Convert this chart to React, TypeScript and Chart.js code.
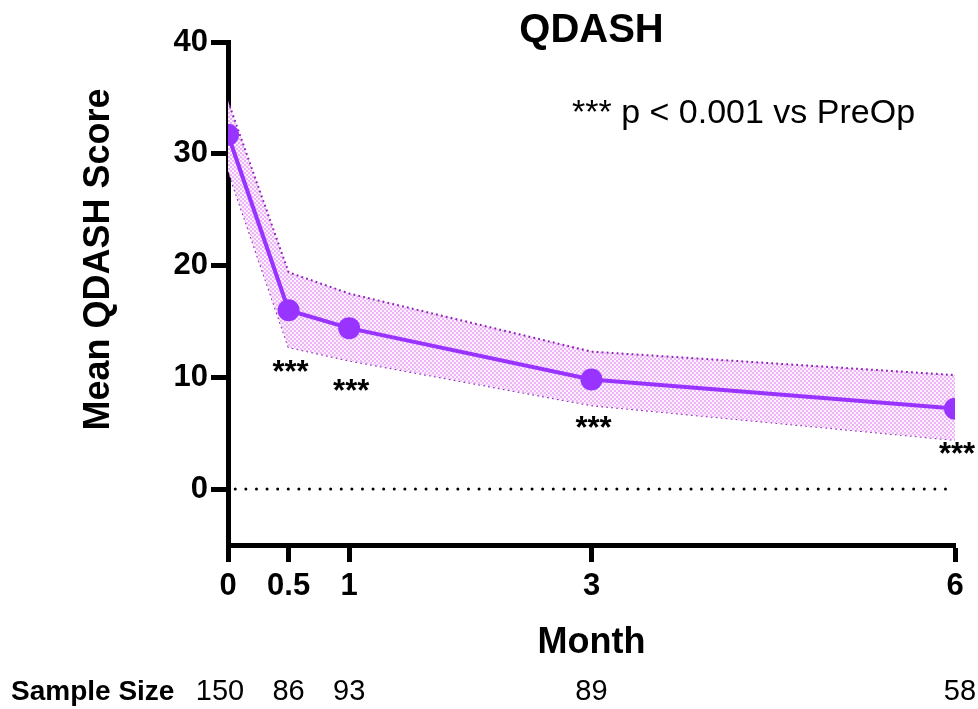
import { useEffect, useRef } from 'react';
import { Chart, registerables } from 'chart.js';

Chart.register(...registerables);

// ---- data ----
const months = [0, 0.5, 1, 3, 6];
const meanScore = [31.7, 16.0, 14.4, 9.8, 7.2];
const upperBand = [34.7, 19.4, 17.5, 12.3, 10.2];
const lowerBand = [28.5, 12.7, 11.5, 7.5, 4.4];
const sampleSize = ['150', '86', '93', '89', '58'];
const xTicks = [0, 0.5, 1, 3, 6];
const yTicks = [0, 10, 20, 30, 40];
const starMonths = [0.5, 1, 3, 6];
const starLevels = [10.9, 9.2, 5.9, 3.6];

const FONT = 'Arial, "Liberation Sans", Helvetica, sans-serif';
const PURPLE = '#9933ff';

function makePattern(): CanvasPattern | string {
  const c = document.createElement('canvas');
  c.width = 4;
  c.height = 4;
  const g = c.getContext('2d');
  if (!g) return 'rgba(225,160,240,0.5)';
  g.fillStyle = '#fcf0fd';
  g.fillRect(0, 0, 4, 4);
  g.fillStyle = '#ecb6f6';
  g.fillRect(0, 0, 2, 2);
  g.fillRect(2, 2, 2, 2);
  const p = g.createPattern(c, 'repeat');
  return p || 'rgba(225,160,240,0.5)';
}

const textPlugin = {
  id: 'textPlugin',
  afterDraw(chart: any) {
    const ctx = chart.ctx;
    const xs = chart.scales.x;
    const ys = chart.scales.y;
    const area = chart.chartArea;
    const cx = (area.left + area.right) / 2;
    ctx.save();
    ctx.fillStyle = '#000';
    // title
    ctx.font = `bold 40px ${FONT}`;
    ctx.textAlign = 'center';
    ctx.textBaseline = 'alphabetic';
    ctx.fillText('QDASH', cx, 42);
    // annotation
    ctx.font = `34px ${FONT}`;
    ctx.textAlign = 'left';
    ctx.fillText('*** p < 0.001 vs PreOp', 572, 123);
    // stars
    ctx.font = `bold 31px ${FONT}`;
    ctx.textAlign = 'center';
    starMonths.forEach((m, i) => {
      ctx.fillText('***', xs.getPixelForValue(m) + 2, ys.getPixelForValue(starLevels[i]) + 15);
    });
    // x title
    ctx.font = `bold 36px ${FONT}`;
    ctx.fillText('Month', cx, 653);
    // y title
    ctx.save();
    ctx.translate(109, ys.getPixelForValue(20) - 6);
    ctx.rotate(-Math.PI / 2);
    ctx.textAlign = 'center';
    ctx.fillText('Mean QDASH Score', 0, 0);
    ctx.restore();
    // sample size row
    ctx.font = `bold 28px ${FONT}`;
    ctx.textAlign = 'left';
    ctx.fillText('Sample Size', 11, 700);
    ctx.font = `29px ${FONT}`;
    ctx.textAlign = 'center';
    months.forEach((m, i) => {
      let x = xs.getPixelForValue(m);
      if (i === 0) x -= 8;
      if (i === months.length - 1) x += 5;
      ctx.fillText(sampleSize[i], x, 700);
    });
    ctx.restore();
  },
};

export default function App() {
  const ref = useRef<HTMLCanvasElement | null>(null);

  useEffect(() => {
    document.body.style.margin = '0';
    const canvas = ref.current;
    if (!canvas) return;
    const pattern = makePattern();
    const pts = (vals: number[]) => months.map((m, i) => ({ x: m, y: vals[i] }));

    const chart = new Chart(canvas, {
      type: 'line',
      data: {
        datasets: [
          {
            label: 'Mean',
            data: pts(meanScore),
            borderColor: PURPLE,
            backgroundColor: PURPLE,
            borderWidth: 4,
            pointRadius: 11,
            pointBorderWidth: 0,
            pointBackgroundColor: PURPLE,
            tension: 0,
            fill: false,
            clip: 0,
          },
          {
            label: 'Upper',
            data: pts(upperBand),
            borderColor: '#8e1fb8',
            borderWidth: 2,
            borderDash: [1.8, 3.2],
            pointRadius: 0,
            fill: '+1',
            backgroundColor: pattern as any,
            tension: 0,
            clip: 0,
          },
          {
            label: 'Lower',
            data: pts(lowerBand),
            borderColor: '#8e1fb8',
            borderWidth: 2,
            borderDash: [1.8, 3.2],
            pointRadius: 0,
            fill: false,
            tension: 0,
            clip: 0,
          },
          {
            label: 'Zero',
            data: [
              { x: 0.06, y: 0 },
              { x: 5.96, y: 0 },
            ],
            borderColor: '#000',
            borderWidth: 3,
            borderDash: [0, 10.6],
            borderCapStyle: 'round',
            pointRadius: 0,
            fill: false,
            clip: 0,
          },
        ],
      },
      options: {
        animation: false,
        responsive: false,
        maintainAspectRatio: false,
        layout: { padding: { left: 0, top: 42, right: 23, bottom: 0 } },
        plugins: {
          legend: { display: false },
          title: { display: false },
          tooltip: { enabled: false },
        },
        scales: {
          x: {
            type: 'linear',
            min: 0,
            max: 6,
            afterBuildTicks: (s: any) => {
              s.ticks = xTicks.map((v) => ({ value: v }));
            },
            afterFit: (s: any) => {
              s.height = 164;
            },
            border: { display: true, color: '#000', width: 5 },
            grid: {
              drawOnChartArea: false,
              drawTicks: true,
              tickLength: 17,
              tickWidth: 5,
              tickColor: '#000',
              color: '#000',
            },
            ticks: {
              color: '#000',
              font: { family: FONT, size: 31, weight: 'bold' },
              padding: 6,
              maxRotation: 0,
              autoSkip: false,
              callback: (v: any) => String(v),
            },
          },
          y: {
            type: 'linear',
            min: -5,
            max: 40,
            afterBuildTicks: (s: any) => {
              s.ticks = yTicks.map((v) => ({ value: v }));
            },
            afterFit: (s: any) => {
              s.width = 228;
            },
            border: { display: true, color: '#000', width: 5 },
            grid: {
              drawOnChartArea: false,
              drawTicks: true,
              tickLength: 17,
              tickWidth: 5,
              tickColor: '#000',
              color: '#000',
            },
            ticks: {
              color: '#000',
              font: { family: FONT, size: 31, weight: 'bold' },
              padding: 3,
              callback: (v: any) => String(v),
            },
          },
        },
      },
      plugins: [textPlugin],
    } as any);

    return () => chart.destroy();
  }, []);

  return (
    <div style={{ position: 'fixed', left: 0, top: 0, width: 978, height: 709, background: '#fff' }}>
      <canvas ref={ref} width={978} height={709} style={{ width: 978, height: 709, display: 'block' }} />
    </div>
  );
}
